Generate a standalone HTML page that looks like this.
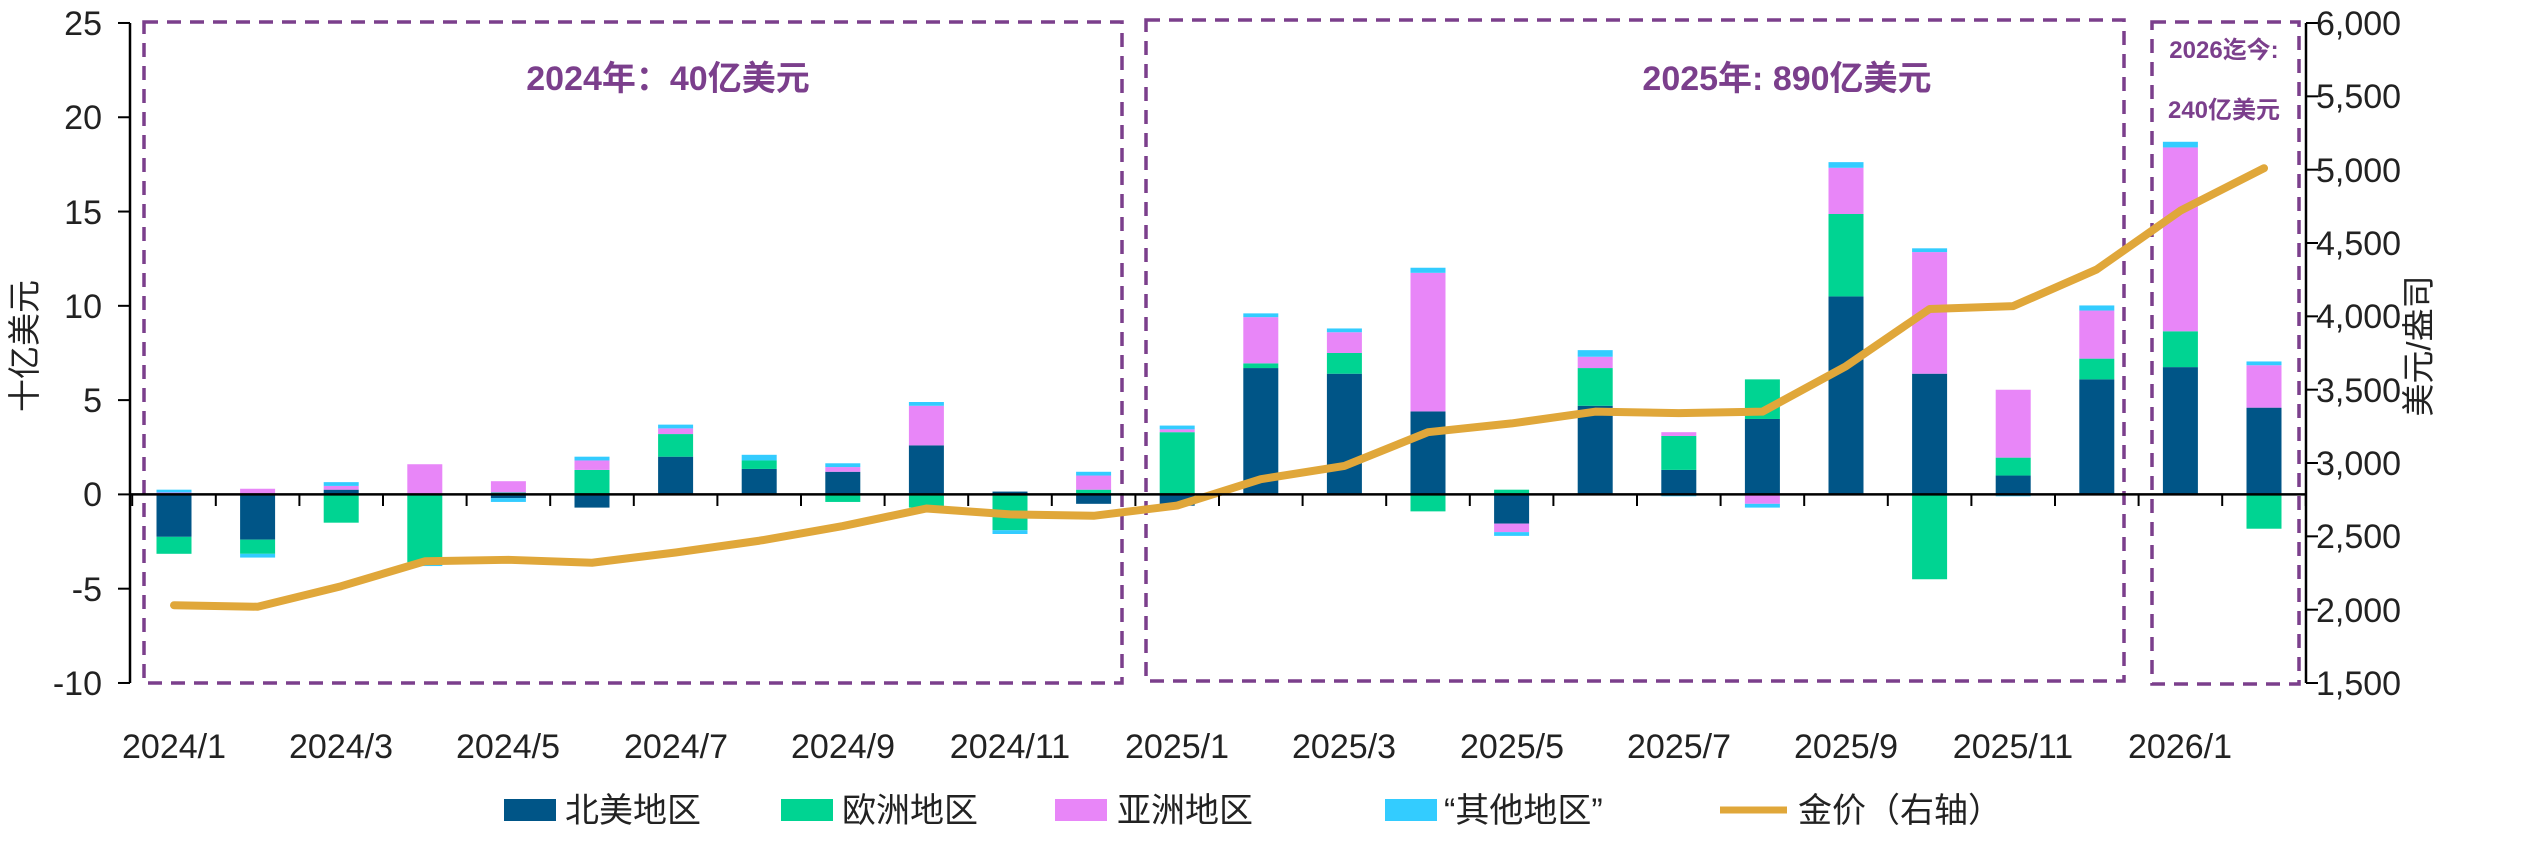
<!DOCTYPE html>
<html><head><meta charset="utf-8"><style>
html,body{margin:0;padding:0;background:#fff;}
svg{display:block;font-family:"Liberation Sans","Noto Sans CJK SC",sans-serif;}
</style></head><body>
<svg id="s" width="2524" height="854" viewBox="0 0 2524 854" xmlns="http://www.w3.org/2000/svg">
<g id="bars"></g>
<g fill="none" stroke="#7B3F8C" stroke-width="3.5" stroke-dasharray="14,9">
<rect x="144" y="22" width="978" height="661"/>
<rect x="1146" y="20" width="978" height="661"/>
<rect x="2152" y="22" width="147" height="662"/>
</g>
<g font-weight="bold" fill="#7B3F8C" text-anchor="middle">
<text x="668" y="90" font-size="34">2024年：40亿美元</text>
<text x="1787" y="90" font-size="34">2025年: 890亿美元</text>
<text x="2224" y="58" font-size="24">2026迄今:</text>
<text x="2224" y="118" font-size="24">240亿美元</text>
</g>
<polyline id="gold" fill="none" stroke="#E0A73A" stroke-width="8" stroke-linejoin="round" stroke-linecap="round"/>
<g stroke="#000" stroke-width="2.5">
<line x1="130" y1="23" x2="130" y2="683"/>
<line x1="2306" y1="23" x2="2306" y2="683"/>
<line x1="130" y1="494.4" x2="2306" y2="494.4"/>
</g>
<g id="ticks" stroke="#000" stroke-width="2"></g>
<g font-size="34" fill="#222" text-anchor="end">
<text x="102" y="35">25</text>
<text x="102" y="129">20</text>
<text x="102" y="224">15</text>
<text x="102" y="318">10</text>
<text x="102" y="412">5</text>
<text x="102" y="506">0</text>
<text x="102" y="601">-5</text>
<text x="102" y="695">-10</text>
</g>
<g font-size="34" fill="#222" text-anchor="start">
<text x="2316" y="35">6,000</text>
<text x="2316" y="108">5,500</text>
<text x="2316" y="182">5,000</text>
<text x="2316" y="255">4,500</text>
<text x="2316" y="328">4,000</text>
<text x="2316" y="402">3,500</text>
<text x="2316" y="475">3,000</text>
<text x="2316" y="548">2,500</text>
<text x="2316" y="622">2,000</text>
<text x="2316" y="695">1,500</text>
</g>
<g font-size="34" fill="#222" text-anchor="middle">
<text x="174" y="758">2024/1</text>
<text x="341" y="758">2024/3</text>
<text x="508" y="758">2024/5</text>
<text x="676" y="758">2024/7</text>
<text x="843" y="758">2024/9</text>
<text x="1010" y="758">2024/11</text>
<text x="1177" y="758">2025/1</text>
<text x="1344" y="758">2025/3</text>
<text x="1512" y="758">2025/5</text>
<text x="1679" y="758">2025/7</text>
<text x="1846" y="758">2025/9</text>
<text x="2013" y="758">2025/11</text>
<text x="2180" y="758">2026/1</text>
</g>
<text transform="translate(36,346) rotate(-90)" font-size="33" fill="#222" text-anchor="middle">十亿美元</text>
<text transform="translate(2430,346) rotate(-90)" font-size="33" fill="#222" text-anchor="middle">美元/盎司</text>
<g font-size="34" fill="#222">
<rect x="504" y="799" width="52" height="22" fill="#005587"/><text x="565" y="822">北美地区</text>
<rect x="781" y="799" width="52" height="22" fill="#00D492"/><text x="842" y="822">欧洲地区</text>
<rect x="1055" y="799" width="52" height="22" fill="#E886F8"/><text x="1117" y="822">亚洲地区</text>
<rect x="1385" y="799" width="52" height="22" fill="#33CCFF"/><text x="1444" y="822">“其他地区”</text>
<line x1="1720" y1="810" x2="1787" y2="810" stroke="#E0A73A" stroke-width="7"/><text x="1798" y="822">金价（右轴）</text>
</g>
</svg>
<script>
var NS="http://www.w3.org/2000/svg";
function X(i){return 174+83.6*i;}
function Y(v){return 494.4-v*18.857;}
var d=[
[-2.25,-0.9,0.1,0.15],[-2.4,-0.75,0.3,-0.2],[0.25,-1.5,0.2,0.2],[0,-3.6,1.6,-0.2],
[-0.2,0.1,0.6,-0.2],[-0.7,1.3,0.5,0.2],[2.0,1.2,0.3,0.2],[1.35,0.45,0,0.3],
[1.2,-0.4,0.25,0.2],[2.6,-0.7,2.1,0.2],[0.15,-1.9,0,-0.2],[-0.5,0.25,0.75,0.2],
[-0.6,3.3,0.15,0.2],[6.7,0.25,2.45,0.2],[6.4,1.1,1.1,0.2],[4.4,-0.9,7.35,0.27],
[-1.55,0.25,-0.45,-0.2],[4.7,2.0,0.6,0.35],[1.3,1.8,0.2,-0.1],[4.0,2.1,-0.5,-0.2],
[10.5,4.37,2.45,0.3],[6.4,-4.5,6.45,0.2],[1.0,0.95,3.6,-0.1],[6.1,1.1,2.55,0.27],
[6.75,1.9,9.75,0.3],[4.6,-1.82,2.25,0.2]];
var col=["#005587","#00D492","#E886F8","#33CCFF"];
var g=document.getElementById("bars");
d.forEach(function(r,i){var p=0,n=0;r.forEach(function(v,k){if(!v)return;var a,b;
if(v>0){a=p;b=p+v;p=b;}else{a=n;b=n+v;n=b;}
var y1=Y(Math.max(a,b)),y2=Y(Math.min(a,b));var e=document.createElementNS(NS,"rect");
e.setAttribute("x",X(i)-17.5);e.setAttribute("y",y1);e.setAttribute("width",35);e.setAttribute("height",y2-y1);e.setAttribute("fill",col[k]);g.appendChild(e);});});
var gold=[2030,2020,2160,2330,2340,2320,2390,2470,2570,2690,2650,2640,2710,2890,2980,3210,3270,3350,3340,3350,3660,4050,4070,4320,4720,5010];
document.getElementById("gold").setAttribute("points",gold.map(function(v,i){return X(i)+","+(23+(6000-v)*0.14667);}).join(" "));
var t=document.getElementById("ticks"),s="";
for(var i=0;i<=26;i++){var x=X(i)-41.8;s+='<line x1="'+x+'" y1="494" x2="'+x+'" y2="506"/>';}
for(var v=-10;v<=25;v+=5){s+='<line x1="118" y1="'+Y(v)+'" x2="130" y2="'+Y(v)+'"/>';}
for(var w=1500;w<=6000;w+=500){var yy=23+(6000-w)*0.14667;s+='<line x1="2306" y1="'+yy+'" x2="2318" y2="'+yy+'"/>';}
t.innerHTML=s;
</script>
</body></html>
